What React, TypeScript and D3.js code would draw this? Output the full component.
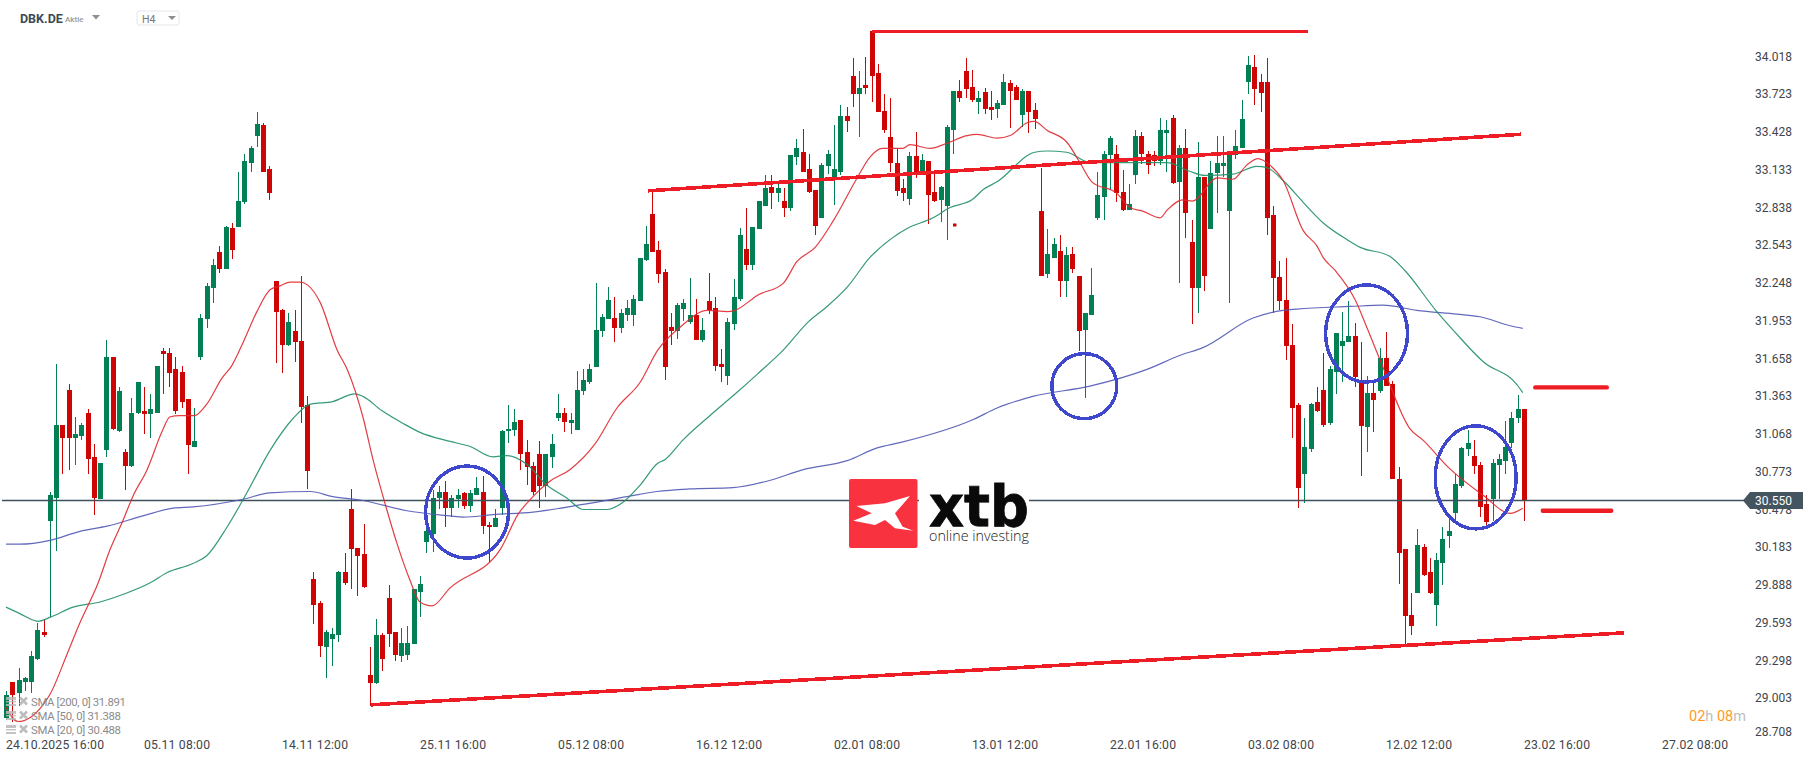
import React from "react";
import * as d3 from "d3";

const W = 1815, H = 761;

const opens = [
28.86,29.14,29.05,29.14,29.14,29.32,29.53,30.39,30.57,31.14,
31.41,31.04,31.05,31.23,30.89,30.56,30.94,31.67,31.09,30.93,
30.82,31.23,31.25,31.22,31.23,31.71,31.70,31.57,31.55,31.34,
30.97,31.67,31.96,32.20,32.48,32.35,32.67,32.68,32.87,33.18,
33.39,33.47,33.13,32.26,32.03,31.76,31.87,31.79,31.29,29.94,
29.75,29.41,29.47,29.50,29.99,30.48,30.18,30.13,29.19,29.13,
29.50,29.79,29.53,29.34,29.35,29.43,29.84,30.23,30.29,30.57,
30.62,30.49,30.56,30.61,30.51,30.59,30.62,30.36,30.34,30.49,
31.09,31.10,31.18,30.93,30.82,30.91,30.66,30.89,31.19,31.23,
31.15,31.10,31.40,31.47,31.59,31.87,31.96,31.97,31.89,31.99,
31.99,32.10,32.42,32.78,32.50,32.33,31.90,31.87,32.04,31.94,
31.99,31.80,32.10,32.05,31.61,31.52,31.92,32.12,32.51,32.38,
32.66,32.84,32.99,32.94,32.88,32.83,33.22,33.26,33.13,32.97,
32.75,33.15,33.07,33.11,33.54,33.85,33.71,33.78,34.20,33.88,
33.58,33.38,33.18,32.98,32.90,33.23,33.08,33.19,32.95,32.89,
32.84,33.43,33.74,33.89,33.77,33.65,33.73,33.61,33.60,33.63,
33.80,33.77,33.55,33.74,33.59,32.80,32.31,32.44,32.49,32.26,
32.47,32.30,31.88,31.99,32.75,32.91,33.24,33.25,32.95,32.81,
33.08,33.39,33.25,33.24,33.19,33.41,33.53,33.03,33.29,32.56,
32.20,33.07,32.66,33.10,33.15,32.80,33.24,33.29,33.81,33.92,
33.81,33.81,32.77,32.29,32.11,31.76,31.29,30.76,30.95,31.32,
31.41,31.15,31.55,31.75,31.78,31.83,31.47,31.12,31.39,31.40,
31.66,31.46,30.72,30.17,29.66,29.83,30.19,29.99,29.74,30.06,
30.27,30.45,30.66,30.95,30.90,30.83,30.52,30.56,30.83,30.86,
31.00,31.19,31.26];

const highs = [
29.07,29.14,29.25,29.18,29.38,29.60,29.63,30.62,31.61,31.14,
31.46,31.20,31.15,31.26,30.99,30.84,31.80,31.67,31.43,30.95,
31.35,31.47,31.43,31.38,31.60,31.74,31.74,31.67,31.60,31.34,
31.27,32.00,32.24,32.43,32.53,32.69,32.71,33.11,33.25,33.31,
33.57,33.49,33.15,32.26,32.04,32.01,32.03,32.30,31.36,29.99,
29.77,29.54,29.56,30.00,30.14,30.64,30.18,30.37,29.41,29.63,
29.52,29.89,29.53,29.56,29.57,29.86,29.96,30.37,30.63,30.66,
30.70,30.59,30.64,30.62,30.63,30.73,30.74,30.38,30.48,31.10,
31.29,31.26,31.18,31.02,30.85,31.01,30.91,31.07,31.38,31.27,
31.23,31.56,31.57,31.61,32.24,32.00,32.21,32.13,32.04,32.11,
32.15,32.44,32.69,32.97,32.57,32.35,32.01,32.09,32.12,32.28,
32.12,31.97,32.32,32.13,31.73,31.97,32.27,32.67,32.83,32.68,
32.88,33.08,33.08,33.01,32.98,33.24,33.36,33.44,33.25,32.97,
33.18,33.28,33.47,33.63,33.61,33.99,33.89,34.00,34.20,33.95,
33.71,33.68,33.29,33.05,33.26,33.42,33.25,33.19,33.09,33.00,
33.47,33.74,33.82,33.99,33.90,33.74,33.76,33.74,33.67,33.87,
33.82,33.78,33.75,33.74,33.64,33.14,32.66,32.59,32.62,32.52,
32.52,32.30,32.01,32.36,33.11,33.27,33.39,33.32,33.12,33.01,
33.43,33.42,33.27,33.27,33.53,33.51,33.55,33.32,33.44,32.73,
33.34,33.07,33.19,33.39,33.39,33.27,33.43,33.67,34.01,34.02,
33.87,33.99,32.84,32.41,32.44,31.92,31.31,31.19,31.31,31.43,
31.70,31.60,31.85,32.02,32.10,31.93,31.78,31.52,31.47,31.74,
31.86,31.48,30.81,30.17,29.83,30.33,30.21,30.10,30.14,30.34,
30.42,30.76,30.97,31.10,31.02,30.85,30.59,30.87,30.91,31.17,
31.24,31.37,31.26];

const lows = [
28.84,28.83,28.95,29.07,29.05,29.31,29.49,29.64,30.16,30.76,
30.79,30.83,31.02,30.76,30.44,30.56,30.89,31.10,31.08,30.63,
30.81,31.22,31.07,31.04,31.23,31.38,31.43,31.22,31.27,30.76,
30.97,31.64,31.89,32.09,32.32,32.35,32.43,32.68,32.86,33.11,
33.30,33.11,32.89,31.62,31.54,31.75,31.63,31.15,30.64,29.59,
29.33,29.17,29.26,29.45,29.89,29.86,29.81,29.87,28.95,29.12,
29.22,29.41,29.30,29.29,29.31,29.43,29.64,30.14,30.15,30.48,
30.34,30.42,30.49,30.48,30.46,30.59,30.29,30.07,30.34,30.44,
31.00,31.05,30.79,30.67,30.59,30.49,30.58,30.80,31.17,31.08,
31.07,31.10,31.37,31.46,31.59,31.82,31.96,31.78,31.85,31.95,
31.91,32.10,32.41,32.48,32.24,31.49,31.76,31.81,31.95,31.92,
31.80,31.78,32.00,31.56,31.47,31.45,31.88,32.10,32.34,32.34,
32.66,32.84,32.82,32.87,32.76,32.80,33.16,33.11,32.94,32.62,
32.75,33.09,32.85,33.08,33.42,33.61,33.38,33.71,33.65,33.57,
33.41,33.11,32.92,32.88,32.85,33.06,33.08,32.70,32.87,32.72,
32.58,33.25,33.65,33.68,33.65,33.56,33.56,33.51,33.53,33.63,
33.45,33.67,33.46,33.41,33.44,32.30,32.28,32.44,32.13,32.13,
32.32,31.71,31.35,31.99,32.73,32.73,32.97,32.87,32.80,32.81,
33.01,33.17,33.09,33.15,33.16,33.11,33.01,32.24,32.59,31.92,
32.01,32.18,32.66,32.79,33.07,32.09,33.21,33.29,33.71,33.63,
33.57,32.62,32.01,32.03,31.64,31.04,30.49,30.53,30.93,31.24,
31.12,31.14,31.38,31.47,31.78,31.43,30.74,30.93,31.08,31.39,
31.44,30.72,29.90,29.43,29.50,29.83,29.96,29.82,29.57,29.89,
30.18,30.40,30.65,30.90,30.76,30.42,30.35,30.39,30.56,30.76,
30.96,31.15,30.39];

const closes = [
29.04,29.04,29.15,29.17,29.34,29.54,29.50,30.59,31.14,31.04,
31.04,31.07,31.14,30.87,30.57,30.84,31.67,31.11,31.40,30.82,
31.23,31.47,31.22,31.26,31.60,31.69,31.54,31.25,31.32,30.98,
31.01,31.97,32.22,32.38,32.35,32.68,32.50,32.88,33.19,33.29,
33.48,33.11,32.94,32.02,31.76,31.94,31.78,31.28,30.78,29.74,
29.42,29.53,29.51,29.99,29.91,30.17,30.12,29.88,29.13,29.50,
29.32,29.51,29.35,29.44,29.44,29.86,29.90,30.31,30.57,30.62,
30.49,30.57,30.59,30.51,30.61,30.65,30.35,30.34,30.41,31.09,
31.11,31.16,30.91,30.81,30.62,30.66,30.91,30.99,31.23,31.16,
31.18,31.41,31.49,31.57,31.88,31.98,32.11,31.89,32.01,32.05,
32.12,32.44,32.55,32.48,32.31,31.59,31.87,32.07,32.09,31.99,
31.80,31.88,32.03,31.60,31.59,31.94,32.13,32.62,32.38,32.68,
32.88,32.98,32.94,32.98,32.83,33.24,33.29,33.11,32.95,32.69,
33.16,33.25,33.13,33.54,33.50,33.71,33.76,33.76,33.85,33.57,
33.43,33.18,32.96,32.94,33.23,33.08,33.20,32.93,32.88,32.99,
33.46,33.74,33.68,33.75,33.67,33.68,33.60,33.59,33.64,33.81,
33.74,33.67,33.74,33.57,33.52,32.30,32.47,32.55,32.26,32.46,
32.35,31.87,32.01,32.15,32.93,33.25,33.37,32.94,32.81,32.86,
33.39,33.25,33.16,33.19,33.43,33.43,33.02,33.29,32.79,32.20,
33.07,32.30,33.10,33.18,33.18,33.24,33.31,33.52,33.94,33.75,
33.72,32.75,32.28,32.10,31.75,31.27,30.65,30.97,31.30,31.25,
31.14,31.57,31.85,31.79,31.83,31.51,31.13,31.39,31.33,31.66,
31.44,30.72,30.14,29.65,29.57,30.20,29.97,29.83,30.09,30.25,
30.31,30.68,30.96,31.00,30.82,30.50,30.38,30.84,30.87,30.97,
31.19,31.26,30.55];

const sma20Bars = [0,1.9,5.9,7,9.7,11.8,14.7,16.6,18.7,20.2,22.5,25,26.1,27.7,30,32,34.4,36,37.8,40,42.1,43.7,45.3,46.9,48,50.1,52.8,54.4,56.9,58.5,60.7,62.3,64.4,66,67.9,70.8,78.8,81.6,84,86.7,89.9,93.9,97.4,101.1,103.9,107.5,111.8,115,116.2,119.9,123.9,126.1,129,131.8,135.8,137.7,139.7,143,144.1,147.3,150,153.2,154.8,158,160.1,162.8,163.9,166,169.1,171.2,173.1,177.1,179.2,181.3,184,185.1,187.6,189.1,193.1,195.6,197.8,199.6,201.5,203.6,206.8,209,210,211.9,215.1,217,219.5,223.8,225.9,229.9,235.5,239.8,241.8];
const sma20Values = [28.94,28.83,28.96,29.04,29.35,29.60,29.91,30.17,30.40,30.58,30.79,31.10,31.20,31.21,31.21,31.30,31.50,31.60,31.78,32.02,32.19,32.22,32.25,32.25,32.23,32.09,31.72,31.57,31.20,30.87,30.48,30.22,29.93,29.76,29.73,29.87,30.17,30.44,30.58,30.70,30.79,30.99,31.27,31.47,31.72,31.90,32.03,32.02,32.03,32.15,32.24,32.41,32.52,32.72,33.07,33.22,33.29,33.29,33.32,33.29,33.33,33.39,33.40,33.37,33.39,33.49,33.50,33.43,33.34,33.18,33.03,32.94,32.83,32.80,32.75,32.81,32.89,32.88,33.06,33.05,33.16,33.21,33.16,33.04,32.65,32.53,32.44,32.34,32.11,31.89,31.59,31.11,31.02,30.81,30.59,30.45,30.49];

const sma50Bars = [0,2.2,5.1,7,10.7,15,18.7,23,25.7,29.8,32,35.2,38.4,42.1,45.8,48.5,52.1,55.6,56.9,59.9,63.3,66,70.8,74,77.6,79.9,83.1,86.2,89.4,92,95.8,98.2,101.1,103.9,105.1,107.9,112.2,116.5,119.7,123.9,127.9,130.9,134.1,137.7,141.2,143.8,147.8,150.5,154,155.8,158,164,166,169.1,172.8,177.6,185.1,188.8,191.1,195.6,199.4,201,203.6,206.8,210,213.8,215.9,220.6,223,228.1,231,235.5,240.9,241.8];
const sma50Values = [29.72,29.67,29.61,29.64,29.72,29.76,29.82,29.91,29.99,30.06,30.12,30.34,30.61,30.94,31.19,31.30,31.32,31.38,31.36,31.25,31.15,31.08,31.01,30.97,30.89,30.90,30.83,30.67,30.57,30.48,30.48,30.53,30.67,30.84,30.87,31.02,31.21,31.39,31.53,31.72,31.94,32.06,32.21,32.44,32.59,32.67,32.75,32.83,32.89,32.97,33.03,33.26,33.27,33.26,33.18,33.18,33.18,33.11,33.08,33.09,33.15,33.14,33.04,32.87,32.71,32.58,32.52,32.45,32.34,32.02,31.86,31.63,31.45,31.39];

const sma200Bars = [0,2.2,7,11.8,16.1,21.8,26.6,29.8,37.8,42.1,48.5,52.1,56.9,63.9,70.8,72.9,77.6,84,92,99,103.8,109,115.9,121.3,127.1,134.1,138.9,142.5,154.2,158,163.7,172.8,181.9,187.2,190.8,198.8,203.6,205.8,214.3,219.5,224.9,231.3,235,239.8,241.8];
const sma200Values = [30.21,30.21,30.24,30.31,30.35,30.43,30.49,30.50,30.56,30.61,30.62,30.58,30.55,30.47,30.43,30.42,30.44,30.46,30.52,30.58,30.62,30.64,30.65,30.70,30.79,30.86,30.96,31.00,31.18,31.27,31.36,31.44,31.57,31.68,31.74,31.97,32.03,32.04,32.06,32.07,32.03,32.00,31.98,31.91,31.89];

const priceTicks = [34.018,33.723,33.428,33.133,32.838,32.543,32.248,31.953,31.658,31.363,31.068,30.773,30.478,30.183,29.888,29.593,29.298,29.003,28.708];
const timeLabels = ["24.10.2025  16:00","05.11  08:00","14.11  12:00","25.11  16:00","05.12  08:00","16.12  12:00","02.01  08:00","13.01  12:00","22.01  16:00","03.02  08:00","12.02  12:00","23.02  16:00","27.02  08:00"];
const timeLabelBars = [0,22,44,66,88,110,132,154,176,198,220,242,264];
const legendLabels = ["SMA [200,  0] 31.891","SMA [50,  0] 31.388","SMA [20,  0] 30.488"];
const trendFromBar = [138,102.3,58.2,243.8,245];
const trendToBar = [207.6,241.5,258,255.2,255.9];
const trendFromPrice = [34.2,32.96,28.96,31.43,30.47];
const trendToPrice = [34.2,33.4,29.52,31.43,30.47];
const circleBars = [73.5,171.9,216.9,234.3];
const circlePrices = [30.46,31.44,31.85,30.73];
const circleRx = [41.5,32.5,41,40.5];
const circleRy = [46,32.5,48.5,51.5];
const lastPrice = 30.55;

const GREEN = "#037f54";
const RED = "#cf0505";
const TREND = "#ee1c25";
const FONT = "Roboto, sans-serif";

const x = d3.scaleLinear().domain([0, 242]).range([6, 1524]);
const y = d3.scaleLinear().domain([30.55, 34.445]).range([500.5, 0]);
const tickY = d3.scaleLinear().domain([30.55, 34.018]).range([500.5, 56.7]);

function smaPath(bars: number[], values: number[]) {
  const line = d3.line<number>().x((b) => x(b)).y((_, i) => y(values[i])).curve(d3.curveMonotoneX);
  return line(bars) as string;
}

const XMark = ({ cx, cy }: { cx: number; cy: number }) => (
  <path d={`M${cx - 3.5} ${cy - 3.5}L${cx + 3.5} ${cy + 3.5}M${cx + 3.5} ${cy - 3.5}L${cx - 3.5} ${cy + 3.5}`} stroke="#bdbdbd" strokeWidth={2.6} />
);

export default function App() {
  const py = y(lastPrice);
  return (
    <svg width={W} height={H} viewBox={`0 0 ${W} ${H}`} style={{ position: "absolute", left: 0, top: 0, display: "block", background: "#fff" }} fontFamily={FONT}>
      {/* candles */}
      <g shapeRendering="crispEdges">
        {opens.map((o, i) => {
          const c = closes[i];
          const up = c >= o;
          const col = up ? GREEN : RED;
          const cx = Math.round(x(i));
          const top = Math.round(y(Math.max(o, c)));
          const bot = Math.round(y(Math.min(o, c)));
          return (
            <g key={i} fill={col}>
              <rect x={cx - 0.5} width={1} y={Math.round(y(highs[i]))} height={Math.max(1, Math.round(y(lows[i])) - Math.round(y(highs[i])))} />
              <rect x={cx - 2.5} width={5} y={top} height={Math.max(1, bot - top)} />
            </g>
          );
        })}
      </g>
      <rect x={953} y={223.5} width={3.5} height={3} fill={RED} />
      {/* price line */}
      <line x1={2} x2={1745} y1={py} y2={py} stroke="#3f505e" strokeWidth={1.4} />
      {/* moving averages */}
      <g fill="none" strokeWidth={1.2} strokeOpacity={0.9}>
        <path d={smaPath(sma200Bars, sma200Values)} stroke="#5159b5" />
        <path d={smaPath(sma50Bars, sma50Values)} stroke="#1f8f68" />
        <path d={smaPath(sma20Bars, sma20Values)} stroke="#e0282e" />
      </g>
      {/* drawn lines */}
      {trendFromBar.map((b, i) => (
        <line key={i} x1={x(b)} x2={x(trendToBar[i])} y1={y(trendFromPrice[i])} y2={y(trendToPrice[i])} stroke={TREND} strokeWidth={i < 3 ? 3.6 : 4.4} strokeLinecap={i < 3 ? "butt" : "round"} shapeRendering={i < 3 ? "crispEdges" : undefined} />
      ))}
      {circleBars.map((b, i) => (
        <ellipse key={i} cx={x(b)} cy={y(circlePrices[i])} rx={circleRx[i]} ry={circleRy[i]} fill="none" stroke="#3f48cc" strokeWidth={3.4} shapeRendering="crispEdges" />
      ))}
      {/* logo */}
      <g>
        <rect x={919} y={479} width={110} height={69} fill="#fff" />
        <rect x={849} y={479} width={68.5} height={69} rx={2} fill="#f93240" />
        <path d="M856.5 506L885 503.3L910 496L895 513.3L902.7 526.7L913.3 530.7L895 528.3L885 520L875 525L853.3 520.7L871.7 513.3Z" fill="#fff" />
        <text x={929} y={526} fontFamily="'DejaVu Sans', sans-serif" fontWeight={700} fontSize={57} textLength={100} lengthAdjust="spacingAndGlyphs" fill="#0a0a0a" stroke="#0a0a0a" strokeWidth={0.8}>xtb</text>
        <text x={929} y={541} fontFamily="'Open Sans', sans-serif" fontWeight={300} fontSize={14.5} textLength={100} lengthAdjust="spacingAndGlyphs" fill="#222">online investing</text>
      </g>
      {/* price axis */}
      <g fontSize={12} fill="#3f454b">
        {priceTicks.map((t) => (
          <text key={t} x={1755} y={Math.min(tickY(t), 731.7)} dominantBaseline="central">{t.toFixed(3)}</text>
        ))}
      </g>
      <path d={`M1743 ${py}L1750 492H1803V509H1750Z`} fill="#44555f" />
      <text x={1755} y={py + 0.8} fontSize={12} fill="#fff" dominantBaseline="central">{lastPrice.toFixed(3)}</text>
      {/* time axis */}
      <g fontSize={12.2} fill="#3f454b" style={{ whiteSpace: "pre" }}>
        {timeLabels.map((t, i) => (
          <text key={t} x={x(timeLabelBars[i])} y={749} textLength={i === 0 ? 98 : 66}>{t}</text>
        ))}
      </g>
      <text x={1689} y={721} fontSize={14.5} style={{ whiteSpace: "pre" }}>
        <tspan fill="#ff9a1f">02</tspan><tspan fill="#bdbdbd">h </tspan><tspan fill="#ff9a1f">08</tspan><tspan fill="#bdbdbd">m</tspan>
      </text>
      {/* legend */}
      <g style={{ whiteSpace: "pre" }}>
        {legendLabels.map((t, i) => {
          const cy = 702 + i * 14;
          return (
            <g key={t}>
              <g fill="#b9b9b9" opacity={0.85}>
                <rect x={6} y={cy - 5} width={10} height={3} />
                <rect x={6} y={cy - 1} width={10} height={1.4} />
                <rect x={6} y={cy + 2} width={10} height={2} />
              </g>
              <XMark cx={23.5} cy={cy - 1} />
              <text x={31} y={cy} fontSize={11.4} fill="#8c8c8c" dominantBaseline="central" textLength={t.length > 19 ? 95 : 90}>{t}</text>
            </g>
          );
        })}
      </g>
      {/* header */}
      <text x={20} y={22.5} fontSize={12.5} fontWeight={700} fill="#3d4a55">DBK.DE</text>
      <text x={65} y={22} fontSize={8} fontWeight={500} fill="#9a9a9a">Aktie</text>
      <path d="M92 15H100L96 19.5Z" fill="#8f8f8f" />
      <rect x={137} y={11} width={42} height={14} rx={2} fill="#fff" stroke="#e4e6e8" />
      <text x={142} y={23} fontSize={10.5} fill="#777">H4</text>
      <path d="M168 16H176L172 20Z" fill="#8f8f8f" />
    </svg>
  );
}
